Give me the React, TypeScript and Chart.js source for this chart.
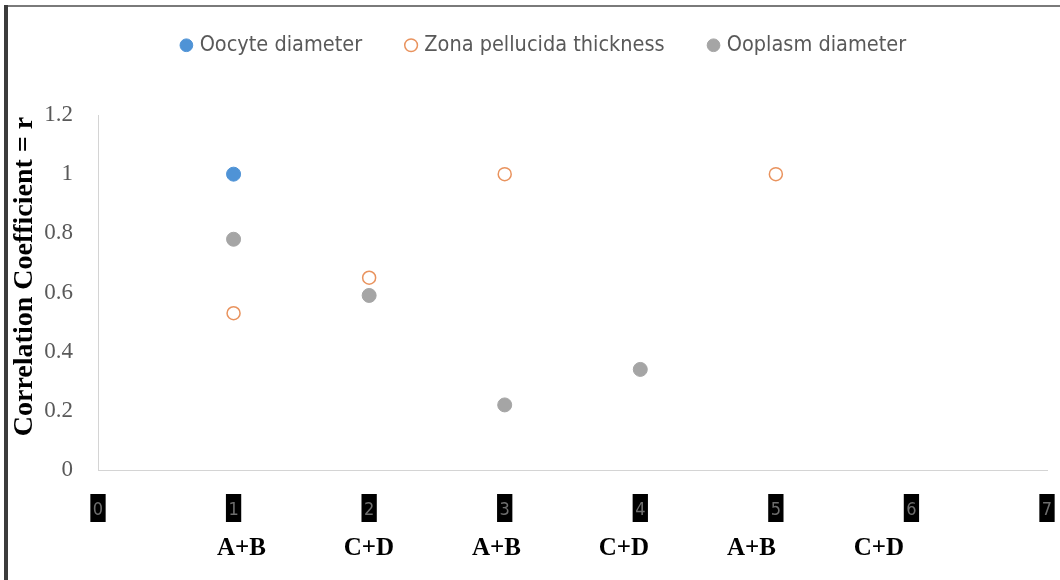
import React, { useEffect, useRef } from 'react';
import { Chart, registerables } from 'chart.js';

Chart.register(...registerables);

// ---- data ----
const xTickValues = [0, 1, 2, 3, 4, 5, 6, 7];
const yTickValues = [0, 0.2, 0.4, 0.6, 0.8, 1, 1.2];
const groupLabels = ['A+B', 'C+D', 'A+B', 'C+D', 'A+B', 'C+D'];
const groupPositions = [1, 2, 3, 4, 5, 6];

const seriesNames = ['Oocyte diameter', 'Zona pellucida thickness', 'Ooplasm diameter'];
const oocyteX = [1];
const oocyteY = [1];
const zonaX = [1, 2, 3, 5];
const zonaY = [0.53, 0.65, 1, 1];
const ooplasmX = [1, 2, 3, 4];
const ooplasmY = [0.78, 0.59, 0.22, 0.34];

const toPoints = (xs: number[], ys: number[]) => xs.map((x, i) => ({ x, y: ys[i] }));

const NARROW = "'DejaVu Sans Condensed', 'Liberation Sans', sans-serif";
const SERIF = "'Liberation Serif', 'DejaVu Serif', serif";

const layoutTweaks = {
  id: 'layoutTweaks',
  beforeUpdate(chart: any) {
    const lg = chart.legend;
    if (lg && !lg.__patched) {
      const orig = lg.fit.bind(lg);
      lg.fit = function () {
        orig();
        this.height = 115;
      };
      lg.__patched = true;
    }
  },
  afterLayout(chart: any) {
    const lg = chart.legend;
    if (lg) {
      lg.left = 43;
      lg.top = -12;
    }
    const ys = chart.scales && chart.scales.y;
    if (ys && !ys.__titlePatched) {
      const origTitle = ys.drawTitle.bind(ys);
      ys.drawTitle = function () {
        const ctx = this.ctx;
        ctx.save();
        ctx.translate(0, -16);
        origTitle();
        ctx.restore();
      };
      ys.__titlePatched = true;
    }
  },
};

export default function App() {
  const ref = useRef<HTMLCanvasElement | null>(null);

  useEffect(() => {
    if (!ref.current) return;
    const chart = new Chart(ref.current, {
      type: 'scatter',
      data: {
        datasets: [
          {
            label: seriesNames[0],
            data: toPoints(oocyteX, oocyteY),
            backgroundColor: '#4F93D6',
            borderColor: '#4F93D6',
            borderWidth: 1,
            pointRadius: 7,
          },
          {
            label: seriesNames[1],
            data: toPoints(zonaX, zonaY),
            backgroundColor: 'rgba(255,255,255,0)',
            borderColor: '#E9935E',
            borderWidth: 1.5,
            pointRadius: 6.5,
          },
          {
            label: seriesNames[2],
            data: toPoints(ooplasmX, ooplasmY),
            backgroundColor: '#A5A5A5',
            borderColor: '#A5A5A5',
            borderWidth: 1,
            pointRadius: 7,
          },
        ],
      },
      options: {
        animation: false,
        responsive: false,
        devicePixelRatio: 1,
        layout: { padding: { top: 0, left: 0, right: 13, bottom: 0 } },
        plugins: {
          legend: {
            position: 'top',
            labels: {
              usePointStyle: true,
              boxWidth: 5,
              boxHeight: 9,
              padding: 46.5,
              color: '#595959',
              font: { family: NARROW, size: 21.5 },
            },
          },
          tooltip: { enabled: false },
        },
        scales: {
          x: {
            type: 'linear',
            position: 'bottom',
            min: 0,
            max: 7,
            weight: 0,
            afterBuildTicks: (axis: any) => {
              axis.ticks = xTickValues.map((v) => ({ value: v }));
            },
            afterFit: (axis: any) => {
              axis.height = 52;
              axis.paddingLeft = 0;
              axis.paddingRight = 0;
            },
            grid: { display: false, drawTicks: false },
            border: { display: true, color: '#d4d4d4', width: 1 },
            ticks: {
              padding: 30,
              color: '#6e6e6e',
              font: { family: NARROW, size: 18 },
              showLabelBackdrop: true,
              backdropColor: '#000000',
              backdropPadding: { top: 6, bottom: 6, left: 2.5, right: 2.5 },
              callback: (v: any) => String(v),
            },
          },
          x2: {
            type: 'linear',
            position: 'bottom',
            min: -0.125,
            max: 7.318,
            weight: 1,
            afterBuildTicks: (axis: any) => {
              axis.ticks = groupPositions.map((v) => ({ value: v }));
            },
            afterFit: (axis: any) => {
              axis.height = 58;
              axis.paddingLeft = 0;
              axis.paddingRight = 0;
            },
            grid: { display: false, drawTicks: false },
            border: { display: false },
            ticks: {
              padding: 12,
              color: '#000000',
              font: { family: SERIF, size: 25, weight: 'bold' },
              callback: (v: any) => {
                const i = groupPositions.indexOf(Number(v));
                return i >= 0 ? groupLabels[i] : '';
              },
            },
          },
          y: {
            type: 'linear',
            min: 0,
            max: 1.2,
            afterBuildTicks: (axis: any) => {
              axis.ticks = yTickValues.map((v) => ({ value: v }));
            },
            afterFit: (axis: any) => {
              axis.width = 98;
            },
            grid: { display: false, drawTicks: false },
            border: { display: true, color: '#d4d4d4', width: 1 },
            ticks: {
              padding: 25,
              color: '#595959',
              font: { family: SERIF, size: 23 },
              callback: (v: any) => String(Math.round(Number(v) * 10) / 10),
            },
            title: {
              display: true,
              text: 'Correlation Coefficient = r',
              color: '#000000',
              font: { family: SERIF, size: 28, weight: 'bold' },
              padding: { top: 8, bottom: 0 },
            },
          },
        },
      },
      plugins: [layoutTweaks],
    } as any);
    return () => chart.destroy();
  }, []);

  return (
    <div
      style={{
        position: 'absolute',
        left: 0,
        top: 0,
        width: 1060,
        height: 580,
        background: '#ffffff',
        overflow: 'hidden',
      }}
    >
      <canvas
        ref={ref}
        width={1060}
        height={580}
        style={{ position: 'absolute', left: 0, top: 0, width: 1060, height: 580 }}
      />
      <div style={{ position: 'absolute', left: 4, top: 5, width: 1056, height: 2, background: '#7a7a7a' }} />
      <div style={{ position: 'absolute', left: 4, top: 5, width: 4, height: 575, background: '#3c3c3c' }} />
    </div>
  );
}
